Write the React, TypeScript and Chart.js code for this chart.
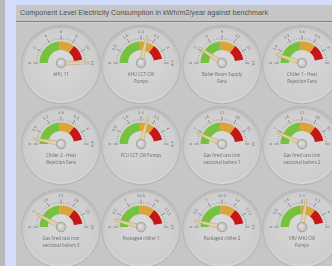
import React, { useEffect, useRef } from 'react';
import { Chart, registerables } from 'chart.js';

Chart.register(...registerables);

const TITLE = 'Component Level Electricity Consumption in kWh/m2/year against benchmark';

const gaugeNames: string[] = [
  'AHU 11',
  'AHU CCT CW\nPumps',
  'Boiler Room Supply\nFans',
  'Chiller 1 - Heat\nRejection Fans',
  'Chiller 2 - Heat\nRejection Fans',
  'FCU CCT CW Pumps',
  'Gas fired cast iron\nsectional boilers 1',
  'Gas fired cast iron\nsectional boilers 2',
  'Gas fired cast iron\nsectional boilers 3',
  'Packaged chiller 1',
  'Packaged chiller 2',
  'VRV AHU CW\nPumps',
];

// scale maximum of each gauge (kWh/m2/year)
const gaugeMax: number[] = [12, 4.8, 18, 9.6, 9.6, 4.8, 42, 42, 42, 21, 21, 4.8];
// benchmark bands (upper limit of each band)
const greenLimit: number[] = [5.6, 2.3, 8.5, 4.5, 4.5, 2.3, 19.7, 19.7, 19.7, 9.9, 9.9, 2.3];
const amberLimit: number[] = [8.5, 3.4, 12.8, 6.8, 6.8, 3.4, 29.8, 29.8, 29.8, 14.9, 14.9, 3.4];
const redLimit: number[] = [11.4, 4.5, 17.1, 9.0, 9.0, 4.5, 39.9, 39.9, 39.9, 19.9, 19.9, 4.5];
// actual consumption (needle)
const actualValues: number[] = [12, 2.74, 3.4, 1.0, 0.61, 2.78, 5.6, 5.9, 6.6, 1.75, 1.5, 2.64];
// tick label steps per gauge (six divisions)
const tickSteps: number[] = [2, 0.8, 3, 1.6, 1.6, 0.8, 7, 7, 7, 3.5, 3.5, 0.8];

const bandColors = ['#76c13e', '#dca438', '#c81616', 'rgba(0,0,0,0)'];

const hubX = [61, 141, 222, 302];
const hubY = [63, 144, 227];
const SIZE = 84;
const TAU = Math.PI * 2;

function fmt(v: number) {
  return (Math.round(v * 10) / 10).toString();
}

function Gauge({ i }: { i: number }) {
  const ref = useRef<HTMLCanvasElement>(null);
  useEffect(() => {
    const max = gaugeMax[i];
    const data = [
      greenLimit[i],
      amberLimit[i] - greenLimit[i],
      redLimit[i] - amberLimit[i],
      max - redLimit[i],
    ];
    const ticks: number[] = [];
    for (let k = 0; k <= 6; k++) ticks.push(tickSteps[i] * k);

    const angleOf = (chart: any, v: number) => {
      const meta = chart.getDatasetMeta(0);
      const first = meta.data[0];
      const last = meta.data[meta.data.length - 1];
      const span = last.endAngle - first.startAngle;
      const frac = meta.controller.calculateCircumference(Math.min(v, max)) / TAU;
      return first.startAngle + frac * span;
    };

    const facePlugin = {
      id: 'gaugeFace',
      beforeDatasetsDraw(chart: any) {
        const arc = chart.getDatasetMeta(0).data[0];
        const ctx = chart.ctx as CanvasRenderingContext2D;
        const cx = arc.x;
        const cy = arc.y + 1.5;
        ctx.save();
        ctx.beginPath();
        ctx.arc(cx, cy, 39.8, 0, TAU);
        ctx.fillStyle = 'rgba(160,160,160,0.45)';
        ctx.fill();
        ctx.beginPath();
        ctx.arc(cx, cy, 38.8, 0, TAU);
        const g = ctx.createLinearGradient(0, cy - 38.8, 0, cy + 38.8);
        g.addColorStop(0, '#bcbcbc');
        g.addColorStop(1, '#d6d6d6');
        ctx.fillStyle = g;
        ctx.fill();
        ctx.beginPath();
        ctx.arc(cx, cy, 36.4, 0, TAU);
        const g2 = ctx.createRadialGradient(cx, cy - 8, 4, cx, cy, 36.4);
        g2.addColorStop(0, '#d8d8d8');
        g2.addColorStop(1, '#cdcdcd');
        ctx.fillStyle = g2;
        ctx.fill();
        ctx.restore();
      },
      afterDatasetsDraw(chart: any) {
        const arc = chart.getDatasetMeta(0).data[0];
        const ctx = chart.ctx as CanvasRenderingContext2D;
        const cx = arc.x;
        const cy = arc.y;
        ctx.save();
        // minor ticks
        ctx.strokeStyle = '#8c8c8c';
        for (let k = 0; k < 30; k++) {
          if (k % 5 === 0) continue;
          const v = (tickSteps[i] * 6 * k) / 30;
          const a = angleOf(chart, v);
          ctx.lineWidth = 0.5;
          ctx.beginPath();
          ctx.moveTo(cx + Math.cos(a) * 23.5, cy + Math.sin(a) * 23.5);
          ctx.lineTo(cx + Math.cos(a) * 25.3, cy + Math.sin(a) * 25.3);
          ctx.stroke();
        }
        // major ticks + labels
        ticks.forEach((t) => {
          const a = angleOf(chart, t);
          ctx.lineWidth = 0.8;
          ctx.strokeStyle = '#777';
          ctx.beginPath();
          ctx.moveTo(cx + Math.cos(a) * 23, cy + Math.sin(a) * 23);
          ctx.lineTo(cx + Math.cos(a) * 27.5, cy + Math.sin(a) * 27.5);
          ctx.stroke();
          ctx.save();
          ctx.translate(cx + Math.cos(a) * 30.5, cy + Math.sin(a) * 30.5);
          ctx.rotate(a + Math.PI / 2);
          ctx.fillStyle = '#777';
          ctx.font = '3.8px "DejaVu Sans"';
          ctx.textAlign = 'center';
          ctx.textBaseline = 'middle';
          ctx.fillText(fmt(t), 0, 0);
          ctx.restore();
        });
        // name
        ctx.fillStyle = '#6a6a6a';
        ctx.font = '4.4px "Open Sans"';
        ctx.textAlign = 'center';
        ctx.textBaseline = 'middle';
        gaugeNames[i].split('\n').forEach((line, li) => {
          ctx.fillText(line, cx, cy + 11.5 + li * 7.5);
        });
        // needle
        const a = angleOf(chart, actualValues[i]);
        const L = 28;
        const ca = Math.cos(a);
        const sa = Math.sin(a);
        const px = -sa;
        const py = ca;
        ctx.beginPath();
        ctx.moveTo(cx + px * 2.3, cy + py * 2.3);
        ctx.lineTo(cx + ca * L + px * 0.8, cy + sa * L + py * 0.8);
        ctx.lineTo(cx + ca * L - px * 0.8, cy + sa * L - py * 0.8);
        ctx.lineTo(cx - px * 2.3, cy - py * 2.3);
        ctx.closePath();
        ctx.fillStyle = '#e3d1a0';
        ctx.fill();
        ctx.lineWidth = 0.5;
        ctx.strokeStyle = '#b5a272';
        ctx.stroke();
        // hub
        ctx.beginPath();
        ctx.arc(cx, cy, 5.2, 0, TAU);
        ctx.fillStyle = '#a8a8a8';
        ctx.fill();
        ctx.beginPath();
        ctx.arc(cx, cy, 4, 0, TAU);
        const hg = ctx.createRadialGradient(cx - 1, cy - 1, 0.5, cx, cy, 4);
        hg.addColorStop(0, '#e2e2e2');
        hg.addColorStop(1, '#c2c2c2');
        ctx.fillStyle = hg;
        ctx.fill();
        ctx.restore();
      },
    };

    const chart = new Chart(ref.current as HTMLCanvasElement, {
      type: 'doughnut',
      data: {
        labels: ['Good', 'Fair', 'Poor', 'Excess'],
        datasets: [
          {
            data,
            backgroundColor: bandColors,
            borderWidth: 0,
          },
        ],
      },
      options: {
        animation: false,
        responsive: false,
        events: [],
        rotation: -90,
        circumference: 180,
        radius: 21.5,
        cutout: '61%',
        layout: { padding: { bottom: 21.5 } },
        plugins: {
          legend: { display: false },
          tooltip: { enabled: false },
          title: { display: false },
        },
      } as any,
      plugins: [facePlugin as any],
    });
    return () => chart.destroy();
  }, [i]);

  const col = i % 4;
  const row = Math.floor(i / 4);
  return (
    <canvas
      ref={ref}
      width={SIZE}
      height={SIZE}
      style={{
        position: 'absolute',
        left: hubX[col] - SIZE / 2,
        top: hubY[row] - SIZE / 2,
        width: SIZE,
        height: SIZE,
      }}
    />
  );
}

export default function App() {
  return (
    <div
      style={{
        position: 'fixed',
        left: 0,
        top: 0,
        width: 332,
        height: 266,
        overflow: 'hidden',
        background: '#b9b9b9',
      }}
    >
      <div style={{ position: 'absolute', left: 5, top: 0, width: 327, height: 266, background: '#d4dcfb' }} />
      <div style={{ position: 'absolute', left: 16, top: 5, width: 316, height: 261, background: '#c6c6c6' }} />
      <div
        style={{
          position: 'absolute',
          left: 20,
          top: 8,
          fontFamily: '"Liberation Sans", Arial, sans-serif',
          fontSize: 7.2,
          lineHeight: '10px',
          color: '#505050',
          whiteSpace: 'nowrap',
        }}
      >
        {TITLE}
      </div>
      <div style={{ position: 'absolute', left: 16, top: 21, width: 316, height: 1, background: '#808080' }} />
      <div style={{ position: 'absolute', left: 16, top: 22, width: 316, height: 1, background: '#d2d2d2' }} />
      {gaugeNames.map((_, i) => (
        <Gauge key={i} i={i} />
      ))}
    </div>
  );
}
